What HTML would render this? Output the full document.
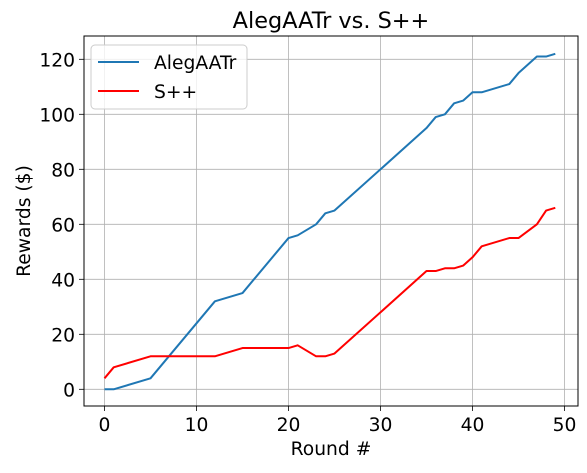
<!DOCTYPE html>
<html><head><meta charset="utf-8"><style>
body{margin:0;background:#fff;font-family:"DejaVu Sans","Liberation Sans",sans-serif}
</style></head><body>
<svg id="c" width="587" height="469" xmlns="http://www.w3.org/2000/svg" font-family="DejaVu Sans, Liberation Sans, sans-serif"></svg>
<script>
const rounds=[0,1,5,12,15,20,21,23,24,25,35,36,37,38,39,40,41,44,45,47,48,49];
const alegaatr=[0,0,4,32,35,55,56,60,64,65,95,99,100,104,105,108,108,111,115,121,121,122];
const spp=[4,8,12,12,15,15,16,12,12,13,43,43,44,44,45,48,52,55,55,60,65,66];
const xTicks=[0,10,20,30,40,50];
const yTicks=[0,20,40,60,80,100,120];
const L=84,R=578,T=36,B=406;
const sx=v=>104.5+v*9.2, sy=v=>389.3-v*2.75;
const svg=document.getElementById('c');const NS='http://www.w3.org/2000/svg';
function mk(t,a,p){const e=document.createElementNS(NS,t);for(const k in a)e.setAttribute(k,a[k]);(p||svg).appendChild(e);return e;}
xTicks.forEach(v=>{
const g=mk('line',{x1:sx(v),x2:sx(v),y1:T,y2:B,stroke:'#b0b0b0','stroke-width':0.8});


mk('line',{x1:sx(v),x2:sx(v),y1:B,y2:B+5,stroke:'#000','stroke-width':0.8});
const t=mk('text',{x:sx(v),y:B+25,'text-anchor':'middle','font-size':18.7});t.textContent=v;


});
yTicks.forEach(v=>{
const g=mk('line',{x1:L,x2:R,y1:sy(v),y2:sy(v),stroke:'#b0b0b0','stroke-width':0.8});


mk('line',{x1:L-5,x2:L,y1:sy(v),y2:sy(v),stroke:'#000','stroke-width':0.8});
const t=mk('text',{x:L-9,y:sy(v)+7,'text-anchor':'end','font-size':18.7});t.textContent=v;


});
function line(vals,col,name){const p=mk('polyline',{points:rounds.map((r,i)=>sx(r)+','+sy(vals[i])).join(' '),fill:'none',stroke:col,'stroke-width':2,'stroke-linejoin':'round'});

}
line(alegaatr,'#1f77b4','alegaatr-line');
line(spp,'#ff0000','spp-line');
const fr=mk('rect',{x:L,y:T,width:R-L,height:B-T,fill:'none',stroke:'#000','stroke-width':1});


const ti=mk('text',{x:(L+R)/2,y:28,'text-anchor':'middle','font-size':22.4});ti.textContent='AlegAATr vs. S++';


const xl=mk('text',{x:(L+R)/2,y:455,'text-anchor':'middle','font-size':18.7});xl.textContent='Round #';


const yl=mk('text',{x:0,y:0,'text-anchor':'middle','font-size':18.7,transform:'translate(30,221) rotate(-90)'});yl.textContent='Rewards ($)';


const lg=mk('g',{});


mk('rect',{x:91,y:45,width:156,height:64,rx:4,fill:'#fff','fill-opacity':0.8,stroke:'#ccc'},lg);
mk('line',{x1:98,x2:139,y1:62,y2:62,stroke:'#1f77b4','stroke-width':2},lg);
mk('line',{x1:98,x2:139,y1:91,y2:91,stroke:'#ff0000','stroke-width':2},lg);
const a=mk('text',{x:154,y:69,'font-size':18.7},lg);a.textContent='AlegAATr';


const b=mk('text',{x:154,y:98,'font-size':18.7},lg);b.textContent='S++';


</script>
</body></html>
